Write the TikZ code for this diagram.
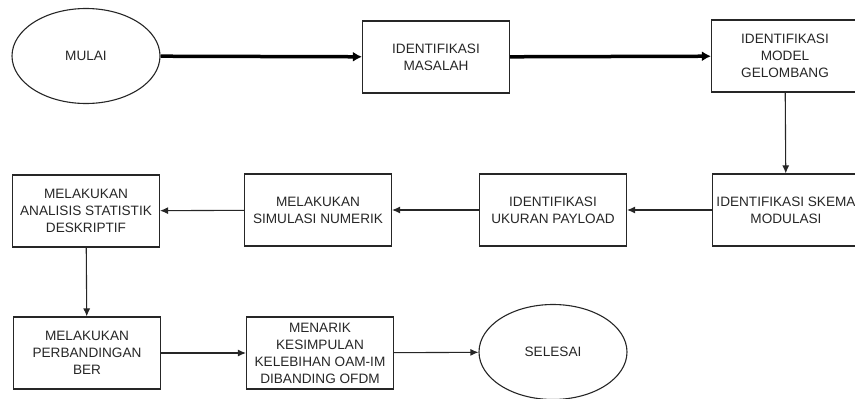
\documentclass[tikz,border=0pt]{standalone}
\usepackage{fontspec}
\setmainfont{Liberation Sans}
\usetikzlibrary{shapes.geometric,arrows.meta}

\begin{document}
\begin{tikzpicture}[x=1pt,y=-1pt]
  % Define style for boxes and arrows
  \tikzstyle{stepbox} = [draw=black!85, line width=1.1pt, rectangle, minimum width=147pt, minimum height=72pt, inner sep=1pt, align=center, font=\fontsize{13.6}{17}\selectfont, text=black!85]
  \tikzstyle{terminal} = [draw=black!85, line width=1.1pt, ellipse, minimum width=148pt, minimum height=95pt, inner sep=1pt, align=center, font=\fontsize{13.6}{17}\selectfont, text=black!85]
  \tikzstyle{flow} = [draw=black!85, line width=1.1pt, -{Latex[length=8pt,width=7pt]}]
  \tikzstyle{flowbold} = [draw=black, line width=3.5pt, -{Latex[length=9pt,width=10pt]}]

  \clip (0,0) rectangle (855,399);

  % Row 1
  \node(mulai)[terminal] at (86,56) {MULAI};
  \node(masalah)[stepbox] at (436,57) {IDENTIFIKASI\\MASALAH};
  \node(model)[stepbox] at (785,56) {IDENTIFIKASI\\MODEL\\GELOMBANG};

  % Row 2
  \node(skema)[stepbox] at (786,210) {IDENTIFIKASI SKEMA\\MODULASI};
  \node(payload)[stepbox] at (553,210) {IDENTIFIKASI\\UKURAN PAYLOAD};
  \node(simulasi)[stepbox] at (318,210) {MELAKUKAN\\SIMULASI NUMERIK};
  \node(analisis)[stepbox] at (86,211) {MELAKUKAN\\ANALISIS STATISTIK\\DESKRIPTIF};

  % Row 3
  \node(banding)[stepbox] at (87,353) {MELAKUKAN\\PERBANDINGAN\\BER};
  \node(simpulan)[stepbox] at (320,353) {MENARIK\\KESIMPULAN\\KELEBIHAN OAM-IM\\DIBANDING OFDM};
  \node(selesai)[terminal] at (553,352) {SELESAI};

  % Arrows
  \draw[flowbold] (mulai) -- (masalah);
  \draw[flowbold] (masalah) -- (model);
  \draw[flow] (model) -- (skema);
  \draw[flow] (skema) -- (payload);
  \draw[flow] (payload) -- (simulasi);
  \draw[flow] (simulasi) -- (analisis);
  \draw[flow] (analisis) -- (banding);
  \draw[flow] (banding) -- (simpulan);
  \draw[flow] (simpulan) -- (selesai);
\end{tikzpicture}
\end{document}
